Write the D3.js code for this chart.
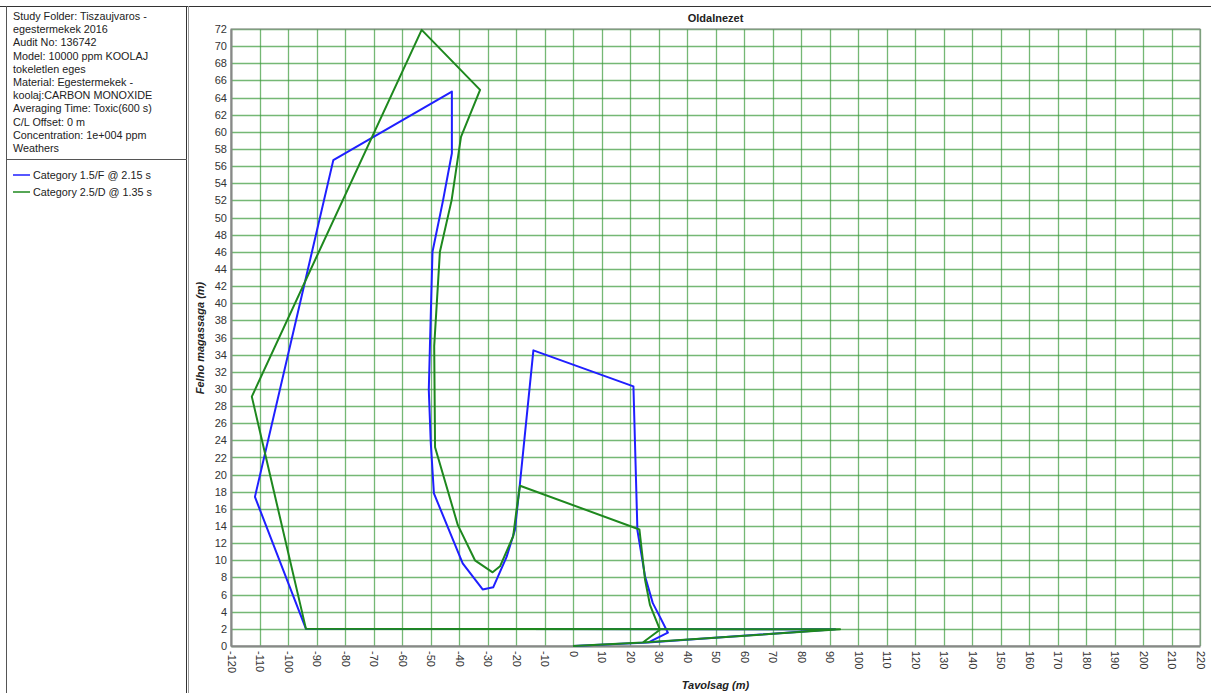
<!DOCTYPE html>
<html>
<head>
<meta charset="utf-8">
<script src="https://cdn.jsdelivr.net/npm/d3@7"></script>
<style>
  body { margin: 0; background: #fff; }
  svg { display: block; font-family: "Liberation Sans", Arial, sans-serif; }
</style>
</head>
<body>
<div id="chart"></div>
<script>
// info panel lines
const infoLines = [
    'Study Folder: Tiszaujvaros -',
    'egestermekek 2016',
    'Audit No: 136742',
    'Model: 10000 ppm KOOLAJ',
    'tokeletlen eges',
    'Material: Egestermekek -',
    'koolaj:CARBON MONOXIDE',
    'Averaging Time: Toxic(600 s)',
    'C/L Offset: 0 m',
    'Concentration: 1e+004 ppm',
    'Weathers'
];
const seriesNames = ['Category 1.5/F @ 2.15 s', 'Category 2.5/D @ 1.35 s'];
const seriesColors = ['#1f1fff', '#1e881e'];

// tick values
const xTicks = d3.range(-120, 221, 10);
const yTicks = d3.range(0, 73, 2);

// Category 1.5/F contour (distance m, height m)
const blueDistance = [0, 26.3, 33.3, 30.5, 28, 25.3, 22.6, 21.2, -13.9, -18.6, -20.4, -23.3, -28, -31.7, -38.7, -48.8, -49.9, -50.6, -50.2, -49.3, -45.6, -42.5, -42.5, -84.1, -111.6, -93.7, 92, 26.3];
const blueHeight   = [0, 0.4, 1.55, 3.4, 5, 8.1, 13.5, 30.3, 34.5, 19, 13.5, 10.4, 6.85, 6.6, 9.65, 17.8, 23.7, 29.9, 35, 46, 52, 57.5, 64.7, 56.7, 17.4, 2, 1.95, 0.4];

// Category 2.5/D contour
const greenDistance = [0, 24.5, 30.5, 27, 25.3, 23.3, -18.6, -19.8, -21, -25.6, -28.2, -34.4, -40.4, -48.4, -48.7, -46.7, -42.6, -39.3, -32.6, -53.1, -112.7, -93.7, 93.7, 24.5];
const greenHeight   = [0, 0.4, 1.9, 4.8, 7.7, 13.6, 18.7, 15.9, 12.8, 9.3, 8.6, 10, 14.1, 23.2, 35, 46, 52, 59.4, 64.9, 71.9, 29.1, 2, 1.95, 0.4];

const WIDTH = 1211, HEIGHT = 693;
const PLOT = { left: 231, right: 1200, top: 29, bottom: 646 };

const svg = d3.select('#chart').append('svg')
    .attr('width', WIDTH)
    .attr('height', HEIGHT);

svg.append('rect')
    .attr('width', WIDTH).attr('height', HEIGHT)
    .attr('fill', '#fff');

// frames
svg.append('line')
    .attr('x1', 0).attr('x2', WIDTH).attr('y1', 6.5).attr('y2', 6.5)
    .attr('stroke', '#333').attr('stroke-width', 1);
svg.append('line')
    .attr('x1', 6.5).attr('x2', 6.5).attr('y1', 6).attr('y2', HEIGHT)
    .attr('stroke', '#555');
svg.append('line')
    .attr('x1', 186.5).attr('x2', 186.5).attr('y1', 6).attr('y2', HEIGHT)
    .attr('stroke', '#333');
svg.append('line')
    .attr('x1', 188.5).attr('x2', 188.5).attr('y1', 6).attr('y2', HEIGHT)
    .attr('stroke', '#999');
svg.append('line')
    .attr('x1', 6).attr('x2', 187).attr('y1', 159.5).attr('y2', 159.5)
    .attr('stroke', '#555');

// info text
svg.append('g')
    .selectAll('text')
    .data(infoLines)
    .join('text')
        .attr('x', 13)
        .attr('y', (d, i) => 20 + i * 13.2)
        .attr('font-size', '10.8px')
        .attr('fill', '#222')
        .text(d => d);

// legend
const legend = svg.append('g')
    .selectAll('g')
    .data(seriesNames)
    .join('g')
        .attr('transform', (d, i) => `translate(13, ${175 + i * 17})`);
legend.append('line')
    .attr('x1', 0).attr('x2', 17)
    .attr('stroke', (d, i) => seriesColors[i])
    .attr('stroke-width', 1.5);
legend.append('text')
    .attr('x', 20).attr('dy', '0.35em')
    .attr('font-size', '10.8px')
    .attr('fill', '#222')
    .text(d => d);

// scales
const xScale = d3.scaleLinear().domain([-120, 220]).range([PLOT.left, PLOT.right]);
const yScale = d3.scaleLinear().domain([0, 72]).range([PLOT.bottom, PLOT.top]);

// grid
svg.append('g')
    .selectAll('line')
    .data(xTicks)
    .join('line')
        .attr('x1', d => Math.round(xScale(d)) + 0.5)
        .attr('x2', d => Math.round(xScale(d)) + 0.5)
        .attr('y1', PLOT.top).attr('y2', PLOT.bottom)
        .attr('stroke', '#3a9a3a').attr('stroke-opacity', 0.7)
        .attr('stroke-width', 1.3);
svg.append('g')
    .selectAll('line')
    .data(yTicks)
    .join('line')
        .attr('x1', PLOT.left).attr('x2', PLOT.right)
        .attr('y1', d => Math.round(yScale(d)) + 0.5)
        .attr('y2', d => Math.round(yScale(d)) + 0.5)
        .attr('stroke', '#3a9a3a').attr('stroke-opacity', 0.7)
        .attr('stroke-width', 1.3);

// plot box
svg.append('rect')
    .attr('x', PLOT.left).attr('y', PLOT.top)
    .attr('width', PLOT.right - PLOT.left).attr('height', PLOT.bottom - PLOT.top)
    .attr('fill', 'none').attr('stroke', '#888').attr('stroke-width', 1);

// axes
const yAxis = d3.axisLeft(yScale).tickValues(yTicks).tickSize(0).tickPadding(4)
    .tickFormat(d => String(d));
svg.append('g')
    .attr('transform', `translate(${PLOT.left}, 0)`)
    .call(yAxis)
    .call(g => g.select('.domain').attr('stroke', '#888').attr('stroke-width', 2))
    .call(g => g.selectAll('text').attr('font-size', '11px').attr('fill', '#333')
        .attr('font-family', '"Liberation Sans", Arial, sans-serif'));

const xAxis = d3.axisBottom(xScale).tickValues(xTicks).tickSize(0)
    .tickFormat(d => String(d));
svg.append('g')
    .attr('transform', `translate(0, ${PLOT.bottom})`)
    .call(xAxis)
    .call(g => g.select('.domain').attr('stroke', '#888').attr('stroke-width', 2))
    .call(g => g.selectAll('text')
        .attr('font-size', '11px').attr('fill', '#333')
        .attr('font-family', '"Liberation Sans", Arial, sans-serif')
        .attr('transform', 'rotate(90)')
        .attr('x', 5).attr('y', 0).attr('dy', '0.35em')
        .style('text-anchor', 'start'));

// contours
const line = d3.line()
    .x(d => xScale(d[0]))
    .y(d => yScale(d[1]));

const blue = blueDistance.map((d, i) => [d, blueHeight[i]]);
const green = greenDistance.map((d, i) => [d, greenHeight[i]]);

svg.append('path')
    .datum(blue)
    .attr('d', line)
    .attr('fill', 'none')
    .attr('stroke', seriesColors[0])
    .attr('stroke-width', 2)
    .attr('stroke-linejoin', 'round');
svg.append('path')
    .datum(green)
    .attr('d', line)
    .attr('fill', 'none')
    .attr('stroke', seriesColors[1])
    .attr('stroke-width', 2)
    .attr('stroke-linejoin', 'round');

// titles
svg.append('text')
    .attr('x', (PLOT.left + PLOT.right) / 2).attr('y', 22)
    .attr('text-anchor', 'middle')
    .attr('font-size', '11px').attr('font-weight', 'bold')
    .attr('fill', '#222')
    .text('Oldalnezet');
svg.append('text')
    .attr('x', (PLOT.left + PLOT.right) / 2).attr('y', 689)
    .attr('text-anchor', 'middle')
    .attr('font-size', '11px').attr('font-weight', 'bold').attr('font-style', 'italic')
    .attr('fill', '#222')
    .text('Tavolsag (m)');
svg.append('text')
    .attr('transform', `translate(204, 338) rotate(-90)`)
    .attr('text-anchor', 'middle')
    .attr('font-size', '11px').attr('font-weight', 'bold').attr('font-style', 'italic')
    .attr('fill', '#222')
    .text('Felho magassaga (m)');
</script>
</body>
</html>
